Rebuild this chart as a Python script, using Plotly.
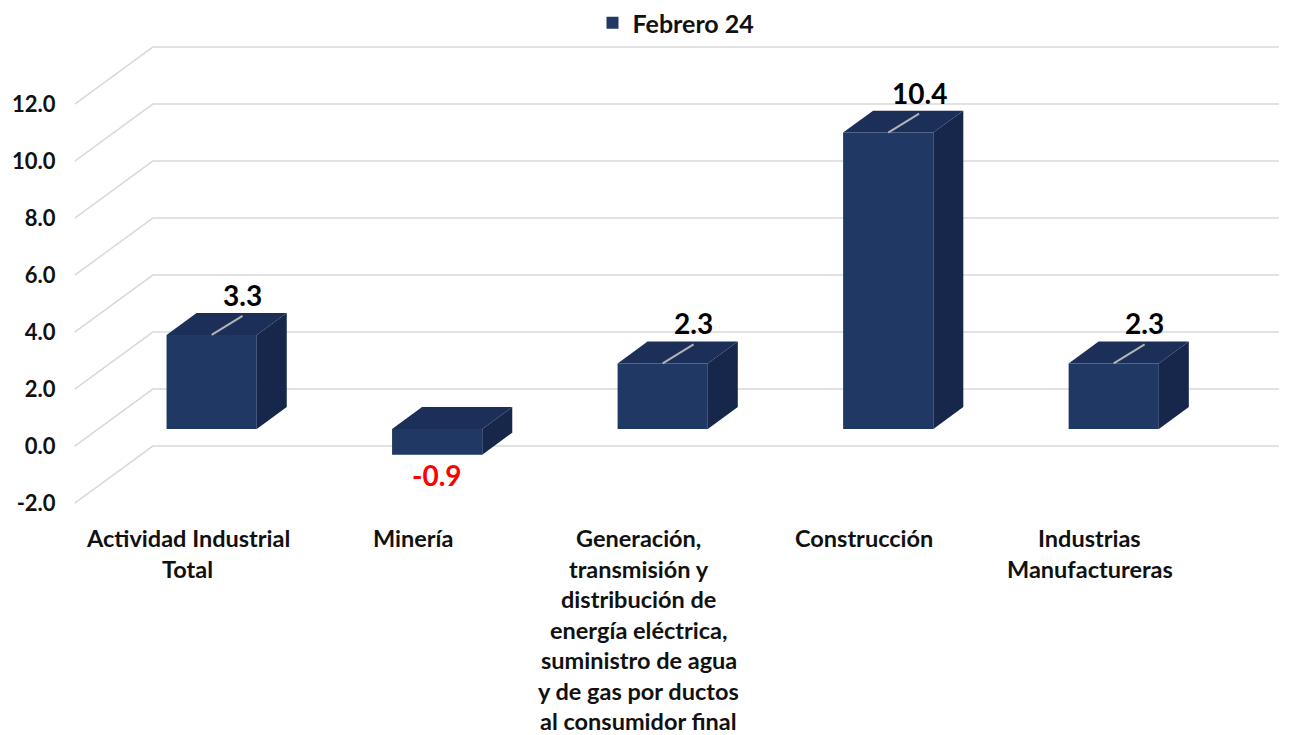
import plotly.graph_objects as go

# datos
categorias = [
    'Actividad Industrial<br>Total',
    'Minería',
    'Generación,<br>transmisión y<br>distribución de<br>energía eléctrica,<br>suministro de agua<br>y de gas por ductos<br>al consumidor final',
    'Construcción',
    'Industrias<br>Manufactureras',
]
variacion = [3.3, -0.9, 2.3, 10.4, 2.3]
ticks_y = [-2, 0, 2, 4, 6, 8, 10, 12]
serie = 'Febrero 24'

FRONT = '#203864'
TOP = '#1b2f59'
SIDE = '#16274b'
GRID = '#d9d9d9'
FONT = 'Lato'

# falsa perspectiva 3D (unidades de los ejes)
ANCHO = 0.4
DESPL = 0.107          # cara frontal respecto a la categoria
DX, DY = 0.133, 0.77   # profundidad de la barra
PARED_DX, PARED_DY = 0.346, 2.0
FRENTE_DY = -0.6
X_MIN, X_MAX = -0.53, 4.862
Y_MIN, Y_MAX = -3.018, 13.649

pos = list(range(len(categorias)))

fig = go.Figure()
fig.add_trace(go.Bar(
    x=pos, y=variacion, width=ANCHO, offset=-ANCHO / 2 + DESPL,
    marker=dict(color=FRONT, line_width=0), name=serie, showlegend=True
))

for i, v in zip(pos, variacion):
    x0 = i - ANCHO / 2 + DESPL
    x1 = x0 + ANCHO
    arriba, abajo = max(v, 0), min(v, 0)
    # cara lateral
    fig.add_trace(go.Scatter(
        x=[x1, x1 + DX, x1 + DX, x1, x1],
        y=[abajo, abajo + DY, arriba + DY, arriba, abajo],
        fill='toself', fillcolor=SIDE, mode='lines', line_width=0,
        showlegend=False, hoverinfo='skip'
    ))
    # cara superior
    fig.add_trace(go.Scatter(
        x=[x0, x1, x1 + DX, x0 + DX, x0],
        y=[arriba, arriba, arriba + DY, arriba + DY, arriba],
        fill='toself', fillcolor=TOP, mode='lines', line_width=0,
        showlegend=False, hoverinfo='skip'
    ))
    xc = i + DESPL
    if v >= 0:
        fig.add_trace(go.Scatter(
            x=[xc, xc + 0.137], y=[v, v + 0.667], mode='lines',
            line=dict(color='#b4b4b4', width=2), showlegend=False, hoverinfo='skip'
        ))
        fig.add_annotation(x=xc + 0.137, y=v + 0.667, text=f'{v:.1f}', showarrow=False,
                           yanchor='middle', yshift=21,
                           font=dict(family=FONT, size=28, color='#000000', weight='bold'))
    else:
        fig.add_annotation(x=xc, y=v, text=f'{v:.1f}', showarrow=False,
                           yanchor='middle', yshift=-20,
                           font=dict(family=FONT, size=28, color='#ff0000', weight='bold'))

# lineas de division (pared lateral + pared del fondo)
for t in ticks_y:
    fig.add_shape(
        type='path', xref='x', yref='y', layer='below',
        path=f'M {-0.5},{t + FRENTE_DY} L {-0.5 + PARED_DX},{t + FRENTE_DY + PARED_DY} L {4.84},{t + FRENTE_DY + PARED_DY}',
        line=dict(color=GRID, width=1.5)
    )

# etiquetas de categoria
for i, cat in zip(pos, categorias):
    for k, linea in enumerate(cat.split('<br>')):
        fig.add_annotation(x=i, y=0, yref='paper', text=linea, showarrow=False,
                           yanchor='middle', yshift=-23 - 30.5 * k,
                           font=dict(family=FONT, size=23.5, color='#111111', weight='bold'))

# la pagina deja 8 px de margen en el body
fig.update_layout(
    width=1282, height=727,
    plot_bgcolor='white', paper_bgcolor='white',
    margin=dict(l=60, r=6, t=32, b=220, autoexpand=False),
    showlegend=True,
    legend=dict(orientation='h', x=0.5, xanchor='center', y=1 - 15 / 727, yref='container',
                yanchor='middle', font=dict(family=FONT, size=25, color='#111111', weight='bold')),
)
fig.update_xaxes(range=[X_MIN, X_MAX], showgrid=False, zeroline=False,
                 showticklabels=False, showline=False)
fig.update_yaxes(range=[Y_MIN, Y_MAX], showgrid=False, zeroline=False, showline=False,
                 tickmode='array', tickvals=[t + FRENTE_DY for t in ticks_y],
                 ticktext=[f'{t:.1f}' for t in ticks_y],
                 ticks='outside', ticklen=7, tickcolor='rgba(0,0,0,0)',
                 tickfont=dict(family=FONT, size=22, color='#111111', weight='bold'))

fig.write_html('out.html')
